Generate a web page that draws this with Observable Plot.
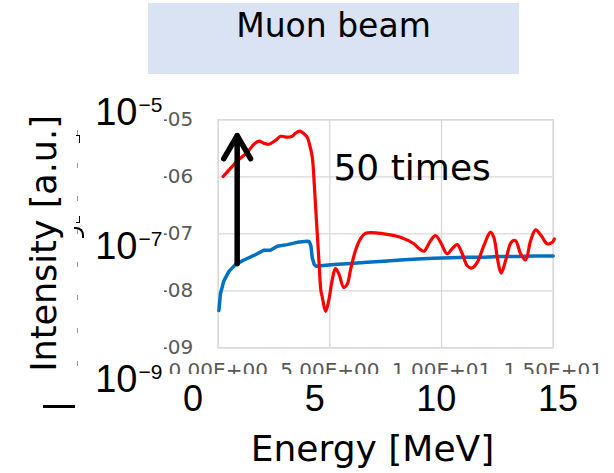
<!DOCTYPE html>
<html><head><meta charset="utf-8">
<script src="https://cdn.jsdelivr.net/npm/d3@7"></script>
<script src="https://cdn.jsdelivr.net/npm/@observablehq/plot@0.6"></script>
<style>
body{margin:0;background:#fff;}
#root{position:relative;width:614px;height:473px;overflow:hidden;background:#fff;font-family:"DejaVu Sans",sans-serif;}
#title{position:absolute;left:148px;top:3px;width:371px;height:71px;background:#dae3f3;}
#title span{position:absolute;left:0;right:0;top:6px;text-align:center;font-size:33px;line-height:33px;color:#000;}
#clip{position:absolute;left:164px;top:0;width:450px;height:374px;overflow:hidden;}
#clip svg{position:absolute;left:-164px;top:0;}
#overlay{position:absolute;left:0;top:0;width:614px;height:473px;}
.frag{position:absolute;}
</style>
</head><body>
<div id="root">
  <div id="title"><span id="titleText"></span></div>
  <div id="clip"></div>
  <div class="frag" style="left:77px;top:130px;width:1px;height:238px;background:repeating-linear-gradient(to bottom,#9a9a9a 0 5px,transparent 5px 33px);"></div>
  <div class="frag" style="left:76px;top:135px;width:3px;height:7px;border-top:1.5px solid #000;border-right:1.5px solid #000;"></div>
  <div class="frag" style="left:76px;top:216px;width:3px;height:6px;border-bottom:1.5px solid #000;border-right:1.5px solid #000;"></div>
  <div class="frag" style="left:74px;top:227px;width:8px;height:9px;border-top:2px solid #000;border-right:2px solid #000;border-top-right-radius:8px;"></div>
  <div class="frag" style="left:43px;top:405px;width:32px;height:3px;background:#000;"></div>
  <div id="overlay"></div>
</div>
<script>
// ---------- data ----------
const chartTitle = "Muon beam";
const xTitle = "Energy [MeV]";
const yTitle = "Intensity [a.u.]";

// inner (Excel) axes
const smallXTicks = [0, 5, 10, 15];
const smallXLabels = ["0.00E+00", "5.00E+00", "1.00E+01", "1.50E+01"];
const smallYTicks = [1e-5, 1e-6, 1e-7, 1e-8, 1e-9];
const smallYLabels = ["1.00E-05", "1.00E-06", "1.00E-07", "1.00E-08", "1.00E-09"];

// large overlay axes
const bigXTicks = [0, 5, 10, 15];
const bigXLabels = ["0", "5", "10", "15"];
const bigYTicks = [1e-5, 1e-7, 1e-9];
const bigYBase = ["10", "10", "10"];
const bigYExp = ["\u22125", "\u22127", "\u22129"];

// blue spectrum
const blueEnergy = [0.03, 0.10, 0.25, 0.48, 0.77, 1.15, 1.60, 2.04, 2.34, 2.64, 3.09, 3.54, 3.99, 4.08, 4.15, 4.21, 4.30, 4.40, 4.60, 5.18, 5.93, 6.67, 7.42, 8.16, 8.91, 9.66, 10.4, 11.15, 11.9, 12.64, 13.39, 14.13, 15.0];
const blueIntensity = [4.5e-9, 8.9e-9, 1.48e-8, 2.19e-8, 2.88e-8, 3.47e-8, 4.17e-8, 5.13e-8, 5.13e-8, 6.03e-8, 6.46e-8, 7.08e-8, 7.41e-8, 7.24e-8, 6.17e-8, 3.8e-8, 2.88e-8, 2.69e-8, 2.75e-8, 2.88e-8, 3.02e-8, 3.16e-8, 3.31e-8, 3.47e-8, 3.63e-8, 3.72e-8, 3.8e-8, 3.89e-8, 3.89e-8, 3.98e-8, 3.98e-8, 4.07e-8, 4.07e-8];

// red spectrum (50 times)
const redEnergy = [0.22, 0.55, 0.92, 1.30, 1.60, 1.82, 2.04, 2.27, 2.57, 2.79, 3.09, 3.31, 3.46, 3.66, 3.84, 3.99, 4.10, 4.21, 4.31, 4.40, 4.51, 4.60, 4.66, 4.81, 4.95, 5.10, 5.25, 5.40, 5.62, 5.78, 5.92, 6.15, 6.37, 6.60, 7.42, 8.16, 8.76, 9.0, 9.21, 9.51, 9.73, 9.96, 10.25, 10.48, 10.70, 10.93, 11.15, 11.37, 11.60, 11.90, 12.19, 12.34, 12.52, 12.67, 12.87, 13.12, 13.31, 13.54, 13.76, 13.99, 14.21, 14.46, 14.73, 14.96, 15.05];
const redIntensity = [1.01e-6, 1.41e-6, 2.0e-6, 2.69e-6, 3.72e-6, 4.22e-6, 3.89e-6, 3.72e-6, 4.37e-6, 5.13e-6, 4.95e-6, 5.13e-6, 5.82e-6, 6.31e-6, 5.69e-6, 4.9e-6, 3.55e-6, 2.24e-6, 6.6e-7, 1.7e-7, 3.39e-8, 1.0e-8, 7.76e-9, 4.37e-9, 6.76e-9, 1.51e-8, 2.45e-8, 2.0e-8, 1.15e-8, 1.32e-8, 2.29e-8, 5.13e-8, 8.13e-8, 1.02e-7, 1.0e-7, 8.71e-8, 6.68e-8, 5.5e-8, 4.95e-8, 7.59e-8, 9.33e-8, 7.08e-8, 4.47e-8, 5.5e-8, 6.46e-8, 4.47e-8, 2.75e-8, 2.51e-8, 3.16e-8, 6.24e-8, 1.07e-7, 8.71e-8, 3.39e-8, 2.04e-8, 3.39e-8, 7.08e-8, 7.59e-8, 4.47e-8, 3.47e-8, 7.59e-8, 1.17e-7, 9.33e-8, 6.68e-8, 7.08e-8, 8.1e-8];

// annotation
const arrowEnergy = [0.85];
const arrowFrom = [2.98e-8];
const arrowTo = [5.3e-6];
const noteText = ["50 times"];
const noteEnergy = [5.16];
const noteIntensity = [1.38e-6];

// ---------- build ----------
const blue = blueEnergy.map((e, i) => ({e, v: blueIntensity[i]}));
const red = redEnergy.map((e, i) => ({e, v: redIntensity[i]}));
const arrows = arrowEnergy.map((e, i) => ({e, a: arrowFrom[i], b: arrowTo[i]}));
const notes = noteText.map((t, i) => ({t, e: noteEnergy[i], v: noteIntensity[i]}));
const xLab = new Map(smallXTicks.map((d, i) => [d, smallXLabels[i]]));
const yLab = new Map(smallYTicks.map((d, i) => [d, smallYLabels[i]]));

document.getElementById("titleText").textContent = chartTitle;

const gridColor = "#d9d9d9";
const inner = Plot.plot({
  width: 614, height: 473,
  marginLeft: 217.7, marginRight: 61.3, marginTop: 119.3, marginBottom: 125.7,
  style: {fontFamily: "DejaVu Sans, sans-serif", background: "transparent", maxWidth: "none"},
  x: {domain: [0, 15]},
  y: {type: "log", domain: [1e-9, 1e-5]},
  marks: [
    Plot.gridX(smallXTicks, {stroke: gridColor, strokeOpacity: 1, strokeWidth: 1.3}),
    Plot.gridY(smallYTicks, {stroke: gridColor, strokeOpacity: 1, strokeWidth: 1.3}),
    Plot.frame({stroke: gridColor, strokeWidth: 1.3}),
    Plot.axisX(smallXTicks, {tickSize: 0, tickPadding: 15, tickFormat: d => xLab.get(d), fontSize: 20, color: "#595959", label: null}),
    Plot.axisY(smallYTicks, {tickSize: 0, tickPadding: 25, tickFormat: d => yLab.get(d), fontSize: 20, color: "#595959", label: null}),
    Plot.line(blue, {x: "e", y: "v", stroke: "#0070c0", strokeWidth: 3.5, strokeLinejoin: "round"}),
    Plot.line(red, {x: "e", y: "v", stroke: "#ff0000", strokeWidth: 3.2, curve: "catmull-rom"}),
    Plot.arrow(arrows, {x1: "e", x2: "e", y1: "a", y2: "b", stroke: "#000", strokeWidth: 5.5, headLength: 7.3, headAngle: 60}),
    Plot.text(notes, {x: "e", y: "v", text: "t", textAnchor: "start", lineAnchor: "middle", fontSize: 36, fill: "#000"})
  ]
});
document.getElementById("clip").appendChild(inner);

const overlay = Plot.plot({
  width: 614, height: 473,
  marginLeft: 137, marginRight: 0, marginTop: 0, marginBottom: 88,
  style: {background: "transparent", maxWidth: "none", fontFamily: "DejaVu Sans, sans-serif"},
  x: {domain: [0, 15], range: [192.6, 557.4], axis: null},
  y: {type: "log", domain: [1e-9, 1e-5], range: [379.8, 112.8], axis: null},
  marks: [
    Plot.text(bigYTicks, {y: d => d, text: (d, i) => bigYBase[i], frameAnchor: "left", textAnchor: "end", lineAnchor: "middle", fontSize: 38, fontFamily: "Liberation Sans, Arial, sans-serif", fill: "#000"}),
    Plot.text(bigYTicks, {y: d => d, text: (d, i) => bigYExp[i], frameAnchor: "left", textAnchor: "start", lineAnchor: "middle", dx: 1, dy: -8, fontSize: 21, fontFamily: "Liberation Sans, Arial, sans-serif", fill: "#000"}),
    Plot.text(bigXTicks, {x: d => d, text: (d, i) => bigXLabels[i], frameAnchor: "bottom", lineAnchor: "top", fontSize: 36, fontFamily: "Liberation Sans, Arial, sans-serif", fill: "#000"}),
    Plot.text([yTitle], {frameAnchor: "left", text: d => d, rotate: -90, dx: -93, dy: 50.5, textAnchor: "middle", lineAnchor: "middle", fontSize: 35, fill: "#000"}),
    Plot.text([xTitle], {frameAnchor: "bottom", text: d => d, dx: -3.5, dy: 64, textAnchor: "middle", lineAnchor: "middle", fontSize: 36, fill: "#000"})
  ]
});
document.getElementById("overlay").appendChild(overlay);
</script>
</body></html>
